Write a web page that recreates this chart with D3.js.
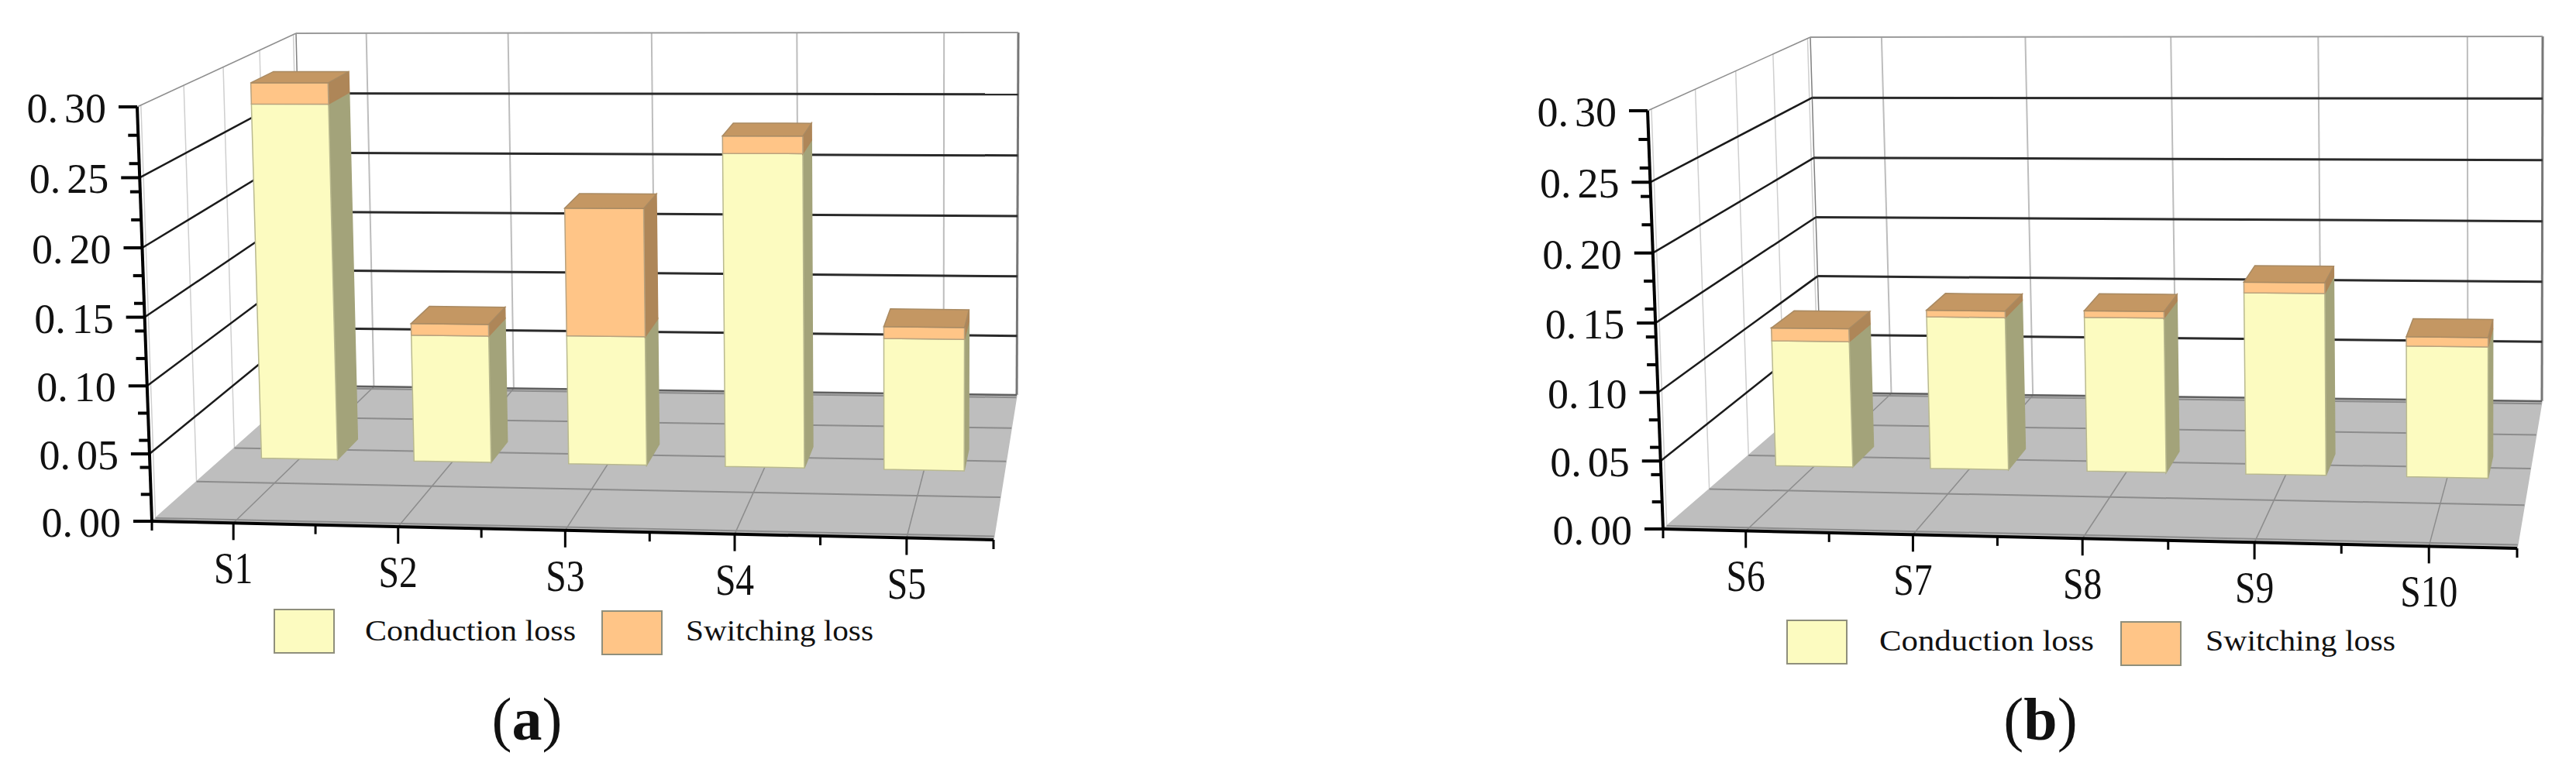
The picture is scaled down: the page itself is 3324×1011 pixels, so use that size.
<!DOCTYPE html>
<html>
<head>
<meta charset="utf-8">
<script src="https://cdn.jsdelivr.net/npm/d3@7"></script>
<style>
    html, body { margin: 0; padding: 0; background: #fff; }
    svg { display: block; }
    text { font-family: "Liberation Serif", serif; fill: #111; }
</style>
</head>
<body>
<div id="chart"></div>
<script>
// values
var categoriesA = ["S1", "S2", "S3", "S4", "S5"];
var conductionA = [0.276, 0.099, 0.100, 0.240, 0.101];
var switchingA = [0.016, 0.009, 0.098, 0.013, 0.009];

var categoriesB = ["S6", "S7", "S8", "S9", "S10"];
var conductionB = [0.098, 0.118, 0.119, 0.139, 0.100];
var switchingB = [0.010, 0.005, 0.005, 0.008, 0.007];

var legendNames = ["Conduction loss", "Switching loss"];
var depthTicks = [0.02, 0.26, 0.5, 0.74, 0.98];

var colors = {
    conduction: { front: "#FCFBC0", side: "#A3A37A", edge: "#B9B98F" },
    switching: { front: "#FFC587", side: "#AE8658", edge: "#B9A27E" },
    top: "#C49763",
    topEdge: "#A98A62",
    floor: "#BEBEBE",
    floorLine: "#8C8C8C"
};

var svg = d3.select("#chart").append("svg")
    .attr("width", 3324)
    .attr("height", 1011);

var path = d3.line();

//////// one panel of the 3d chart
function drawPanel(cfg) {
    var g = svg.append("g");

    // perspective weights, right side / top / back
    var weightU = -0.035, weightV = -0.03, weightZ = 0.176;

    // screen corners of the box, index is [u][v][z]
    var corners = cfg.corners;

    var project = function(u, v, z) {
        var sx = 0, sy = 0, sw = 0;
        [0, 1].forEach(function(a) {
            [0, 1].forEach(function(b) {
                [0, 1].forEach(function(c) {
                    var k = (a ? u : 1 - u) * (b ? v : 1 - v) * (c ? z : 1 - z);
                    k = k * (1 + weightU * a + weightV * b + weightZ * c);
                    sx += k * corners[a][b][c][0];
                    sy += k * corners[a][b][c][1];
                    sw += k;
                });
            });
        });
        return [sx / sw, sy / sw];
    };

    var x = d3.scaleBand().domain(cfg.categories).range([0, 1]).paddingInner(0.5).paddingOuter(0.25);
    var y = d3.scaleLinear().domain([0, 0.3]).range([0, 1]);
    var majorTicks = y.ticks(6);
    var minorTicks = y.ticks(12).filter(function(t) {
        return majorTicks.indexOf(t) < 0;
    });
    var centers = cfg.categories.map(function(c) { return x(c) + x.bandwidth() / 2; });
    var edges = d3.range(cfg.categories.length + 1).map(function(i) { return i / cfg.categories.length; });

    var seg = function(p1, p2, stroke, width) {
        g.append("path").attr("d", path([p1, p2]))
            .attr("fill", "none").attr("stroke", stroke).attr("stroke-width", width);
    };
    var face = function(points, fill, stroke) {
        g.append("path").attr("d", path(points) + "Z")
            .attr("fill", fill).attr("stroke", stroke).attr("stroke-width", 1.5);
    };

    // walls
    depthTicks.forEach(function(z) {
        seg(project(0, 0, z), project(0, 1, z), "#CFCFCF", 1.5);
    });
    centers.forEach(function(u) {
        seg(project(u, 0, 1), project(u, 1, 1), "#BDBDBD", 2);
    });
    seg(project(0, 0, 1), project(0, 1, 1), "#808080", 1.5);
    seg(project(1, 0, 1), project(1, 1, 1), "#777", 3);
    seg(project(0, 1, 0), project(0, 1, 1), "#8E8E8E", 1.5);
    seg(project(0, 1, 1), project(1, 1, 1), "#9A9A9A", 2);
    majorTicks.filter(function(t) { return t > 0 && t < 0.3; }).forEach(function(t) {
        seg(project(0, y(t), 0), project(0, y(t), 1), "#1A1A1A", 2.5);
        seg(project(0, y(t), 1), project(1, y(t), 1), "#2A2A2A", 3);
    });

    // floor
    face([project(0, 0, 0), project(1, 0, 0), project(1, 0, 1), project(0, 0, 1)], colors.floor, colors.floor);
    depthTicks.forEach(function(z) {
        seg(project(0, 0, z), project(1, 0, z), colors.floorLine, 2);
    });
    centers.forEach(function(u) {
        seg(project(u, 0, 0), project(u, 0, 1), colors.floorLine, 1.5);
    });
    seg(project(0, 0, 1), project(1, 0, 1), "#5F5F5F", 2.5);

    // stacked bars
    var zFront = 0.43, zBack = 0.58;
    cfg.categories.forEach(function(cat, i) {
        var u0 = x(cat), u1 = x(cat) + x.bandwidth();
        var v0 = y(0), v1 = y(cfg.conduction[i]), v2 = y(cfg.conduction[i] + cfg.switching[i]);

        [[v0, v1, colors.conduction], [v1, v2, colors.switching]].forEach(function(part) {
            face([project(u1, part[0], zFront), project(u1, part[0], zBack), project(u1, part[1], zBack), project(u1, part[1], zFront)], part[2].side, part[2].side);
            face([project(u0, part[0], zFront), project(u1, part[0], zFront), project(u1, part[1], zFront), project(u0, part[1], zFront)], part[2].front, part[2].edge);
        });
        face([project(u0, v2, zFront), project(u1, v2, zFront), project(u1, v2, zBack), project(u0, v2, zBack)], colors.top, colors.topEdge);
    });

    // y axis
    seg(project(0, 0, 0), project(0, 1, 0), "#000", 4);
    majorTicks.forEach(function(t) {
        var p = project(0, y(t), 0);
        seg([p[0] - 24, p[1]], p, "#000", 4);
        var label = g.append("text")
            .attr("x", p[0] - 40)
            .attr("y", p[1] + 20)
            .attr("text-anchor", "end")
            .attr("font-size", 54);
        var parts = d3.format(".2f")(t).split(".");
        label.append("tspan").text(parts[0] + ".");
        label.append("tspan").attr("dx", 8).text(parts[1]);
    });
    minorTicks.forEach(function(t) {
        var p = project(0, y(t), 0);
        seg([p[0] - 13, p[1]], p, "#000", 4);
    });

    // x axis
    seg(project(0, 0, 0), project(1, 0, 0), "#000", 4);
    edges.forEach(function(u) {
        var p = project(u, 0, 0);
        seg(p, [p[0], p[1] + 12], "#000", 3);
    });
    cfg.categories.forEach(function(cat, i) {
        var p = project(centers[i], 0, 0);
        seg(p, [p[0], p[1] + 22], "#000", 3);
        var label = g.append("text")
            .attr("x", p[0])
            .attr("y", p[1] + 78)
            .attr("text-anchor", "middle")
            .attr("font-size", 56)
            .text(cat);
        // the labels are narrower than the font
        label.attr("textLength", label.node().getComputedTextLength() * 0.85)
            .attr("lengthAdjust", "spacingAndGlyphs");
    });

    // legend
    var fills = [colors.conduction.front, colors.switching.front];
    legendNames.forEach(function(name, i) {
        var item = cfg.legend[i];
        g.append("rect")
            .attr("x", item.x).attr("y", item.y)
            .attr("width", 77).attr("height", 56)
            .attr("fill", fills[i])
            .attr("stroke", "#8F8F7C").attr("stroke-width", 2);
        g.append("text")
            .attr("x", item.textX)
            .attr("y", cfg.legendBaseline)
            .attr("font-size", 38)
            .attr("textLength", item.textWidth)
            .attr("lengthAdjust", "spacingAndGlyphs")
            .text(name);
    });

    // caption
    var caption = g.append("text")
        .attr("x", cfg.captionX)
        .attr("y", 955)
        .attr("text-anchor", "middle")
        .attr("font-size", 78);
    caption.append("tspan").text("(");
    caption.append("tspan").attr("font-weight", "bold").text(cfg.caption);
    caption.append("tspan").text(")");
}

function box(flt, flb, frt, frb, blt, blb, brt, brb) {
    return [[[flb, blb], [flt, blt]], [[frb, brb], [frt, brt]]];
}

drawPanel({
    categories: categoriesA,
    conduction: conductionA,
    switching: switchingA,
    corners: box([177, 138], [196, 673], [1284, 141], [1282, 697], [382, 43], [393, 498], [1314, 42], [1312, 510]),
    legend: [
        { x: 354, y: 787, textX: 471, textWidth: 272 },
        { x: 777, y: 789, textX: 885, textWidth: 242 }
    ],
    legendBaseline: 827,
    caption: "a",
    captionX: 680
});

drawPanel({
    categories: categoriesB,
    conduction: conductionB,
    switching: switchingB,
    corners: box([2126, 143], [2146, 683], [3250, 146], [3248, 708], [2336, 48], [2350, 507], [3281, 47], [3280, 518]),
    legend: [
        { x: 2306, y: 801, textX: 2425, textWidth: 277 },
        { x: 2737, y: 803, textX: 2846, textWidth: 245 }
    ],
    legendBaseline: 840,
    caption: "b",
    captionX: 2633
});
</script>
</body>
</html>
